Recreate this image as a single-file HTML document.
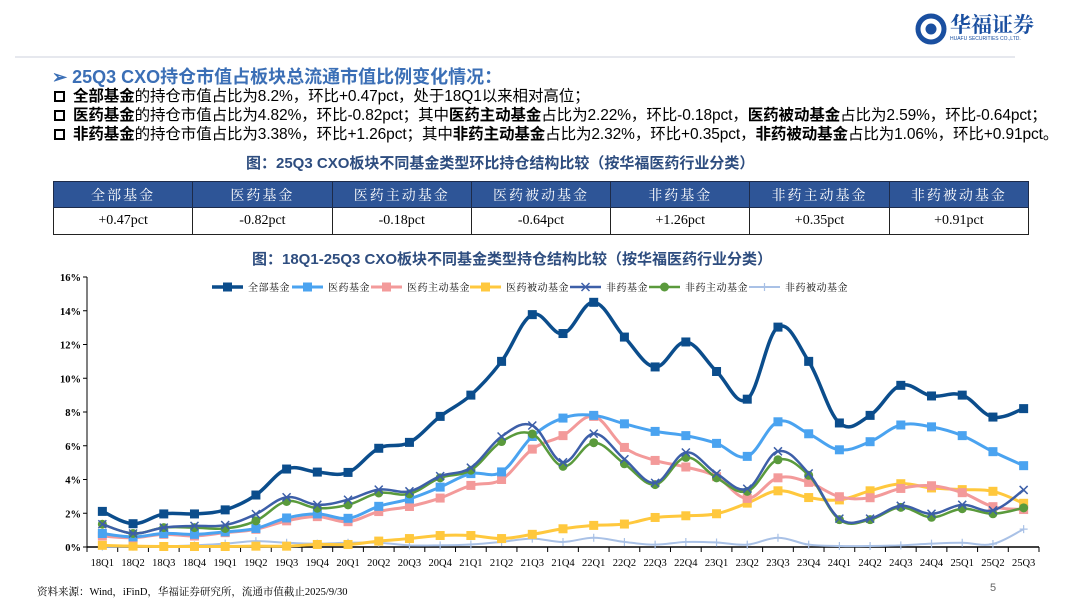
<!DOCTYPE html>
<html><head><meta charset="utf-8">
<style>
*{margin:0;padding:0;box-sizing:border-box}
body{width:1080px;height:608px;background:#fff;position:relative;overflow:hidden;font-family:"Liberation Sans","Noto Sans CJK SC",sans-serif;color:#000}
.abs{position:absolute;white-space:nowrap}
.t1{left:52px;top:63px;font-size:18px;font-weight:bold;color:#3b6fb6}
.b{left:54px;font-size:15.5px;letter-spacing:-0.1px}
.b i{font-style:normal;display:inline-block;width:11px;height:11px;border:2px solid #000;margin-right:8px;vertical-align:-1px}
.cap{font-size:15px;font-weight:bold;color:#2e4d7f}
table{position:absolute;left:53px;top:181px;width:976px;border-collapse:collapse;font-family:"Liberation Serif","Noto Serif CJK SC",serif;font-size:14px;table-layout:fixed}
th{background:#2e5597;color:#fff;height:26px;font-weight:normal;border:1px solid #1d2b4a;letter-spacing:2px}
td{height:27px;text-align:center;border:1px solid #222}
</style></head><body>
<div class="abs" style="left:15px;top:56px;width:1000px;height:2px;background:#e6e8ee"></div>
<div class="abs" style="left:914px;top:12px;width:130px;height:34px">
<svg width="36" height="34" viewBox="0 0 36 34"><circle cx="17" cy="17" r="13" fill="none" stroke="#1a4fa0" stroke-width="5"/><circle cx="17" cy="17" r="5.5" fill="#1a4fa0"/></svg>
<span style="position:absolute;left:36px;top:-3px;font-size:21px;font-weight:bold;color:#1a4fa0;font-family:'Noto Serif CJK SC',serif">华福证券</span>
<span style="position:absolute;left:36px;top:24px;font-size:5px;color:#1a4fa0">HUAFU SECURITIES CO.,LTD.</span>
</div>
<div class="abs t1">➢ 25Q3 CXO持仓市值占板块总流通市值比例变化情况：</div>
<div class="abs b" style="top:84px"><i></i><b>全部基金</b>的持仓市值占比为8.2%，环比+0.47pct，处于18Q1以来相对高位；</div>
<div class="abs b" style="top:103px"><i></i><b>医药基金</b>的持仓市值占比为4.82%，环比-0.82pct；其中<b>医药主动基金</b>占比为2.22%，环比-0.18pct，<b>医药被动基金</b>占比为2.59%，环比-0.64pct；</div>
<div class="abs b" style="top:122px"><i></i><b>非药基金</b>的持仓市值占比为3.38%，环比+1.26pct；其中<b>非药主动基金</b>占比为2.32%，环比+0.35pct，<b>非药被动基金</b>占比为1.06%，环比+0.91pct。</div>
<div class="abs cap" style="left:246px;top:152px">图：25Q3 CXO板块不同基金类型环比持仓结构比较（按华福医药行业分类）</div>
<table>
<tr><th>全部基金</th><th>医药基金</th><th>医药主动基金</th><th>医药被动基金</th><th>非药基金</th><th>非药主动基金</th><th>非药被动基金</th></tr>
<tr><td>+0.47pct</td><td>-0.82pct</td><td>-0.18pct</td><td>-0.64pct</td><td>+1.26pct</td><td>+0.35pct</td><td>+0.91pct</td></tr>
</table>
<div class="abs cap" style="left:252px;top:248px">图：18Q1-25Q3 CXO板块不同基金类型持仓结构比较（按华福医药行业分类）</div>
<svg id="chart" class="abs" style="left:0;top:0" width="1080" height="608"></svg>
<div class="abs" style="left:37px;top:584px;font-size:10.5px;font-family:'Liberation Serif','Noto Serif CJK SC',serif">资料来源：Wind，iFinD，华福证券研究所，流通市值截止2025/9/30</div>
<div class="abs" style="left:990px;top:582px;font-size:11px;color:#666">5</div>
<script>
const categories=["18Q1","18Q2","18Q3","18Q4","19Q1","19Q2","19Q3","19Q4","20Q1","20Q2","20Q3","20Q4","21Q1","21Q2","21Q3","21Q4","22Q1","22Q2","22Q3","22Q4","23Q1","23Q2","23Q3","23Q4","24Q1","24Q2","24Q3","24Q4","25Q1","25Q2","25Q3"];
const yTicks=[0,2,4,6,8,10,12,14,16];
const seriesNames=["全部基金","医药基金","医药主动基金","医药被动基金","非药基金","非药主动基金","非药被动基金"];
const allFunds=[2.11,1.38,1.96,1.96,2.2,3.08,4.62,4.44,4.42,5.85,6.2,7.74,9.0,11.0,13.77,12.65,14.5,12.44,10.67,12.15,10.4,8.76,13.03,11.0,7.35,7.8,9.58,8.95,9.0,7.7,8.2];
const pharmaFunds=[0.8,0.6,0.8,0.75,0.9,1.1,1.72,1.96,1.7,2.41,2.85,3.55,4.35,4.45,6.55,7.64,7.8,7.3,6.85,6.6,6.14,5.37,7.42,6.71,5.76,6.24,7.23,7.12,6.6,5.65,4.82];
const pharmaActive=[0.65,0.55,0.75,0.65,0.85,1.05,1.55,1.8,1.5,2.1,2.4,2.9,3.65,4.0,5.8,6.6,7.74,5.9,5.13,4.74,4.17,2.88,4.1,3.83,2.98,2.92,3.47,3.63,3.22,2.39,2.22];
const pharmaPassive=[0.1,0.05,0.03,0.03,0.03,0.05,0.05,0.15,0.15,0.35,0.5,0.68,0.68,0.5,0.75,1.08,1.28,1.36,1.75,1.85,1.97,2.6,3.33,2.93,2.79,3.33,3.75,3.5,3.4,3.3,2.59];
const nonPharma=[1.35,0.8,1.15,1.25,1.3,1.95,2.95,2.5,2.8,3.4,3.3,4.2,4.7,6.55,7.2,5.02,6.72,5.2,3.8,5.6,4.35,3.45,5.67,4.36,1.68,1.68,2.44,1.97,2.5,2.17,3.38];
const nonPharmaActive=[1.35,0.8,1.15,1.15,1.1,1.55,2.7,2.3,2.5,3.2,3.15,4.1,4.55,6.25,6.7,4.78,6.18,4.93,3.7,5.31,4.1,3.3,5.17,4.25,1.62,1.62,2.35,1.76,2.27,1.97,2.32];
const nonPharmaPassive=[0.02,0.02,0.03,0.1,0.2,0.35,0.25,0.2,0.25,0.25,0.1,0.1,0.15,0.3,0.5,0.3,0.55,0.3,0.14,0.3,0.27,0.14,0.55,0.14,0.06,0.06,0.1,0.2,0.25,0.18,1.06];

const svg=document.getElementById('chart');
const NS='http://www.w3.org/2000/svg';
const X0=87,X1=1039,Y0=547,Y1=277;
const step=(X1-X0)/categories.length;
const xs=i=>X0+step*(i+0.5);
const ys=v=>Y0-(v/16)*(Y0-Y1);
function mk(tag,attrs,parent){const e=document.createElementNS(NS,tag);for(const k in attrs)e.setAttribute(k,attrs[k]);(parent||svg).appendChild(e);return e;}
const serif="'Liberation Serif','Noto Serif CJK SC',serif";
let ax=mk('line',{x1:X0,y1:Y1,x2:X0,y2:Y0,stroke:'#000','stroke-width':1});


let bx=mk('line',{x1:X0,y1:Y0,x2:X1,y2:Y0,stroke:'#000','stroke-width':1.5});


yTicks.forEach(t=>{
  mk('line',{x1:X0-4,x2:X0,y1:ys(t),y2:ys(t),stroke:'#000'});
  const tx=mk('text',{x:X0-6,y:ys(t)+4,'text-anchor':'end','font-size':10.5,'font-weight':'bold','font-family':serif});
  tx.textContent=t+'%';
  
  
});
categories.forEach((c,i)=>{
  const xx=X0+step*i;
  mk('line',{x1:xx,x2:xx,y1:Y0,y2:Y0+5,stroke:'#000'});
  const tx=mk('text',{x:xs(i),y:Y0+19,'text-anchor':'middle','font-size':10.5,'font-family':serif});
  tx.textContent=c;
  
  
});
mk('line',{x1:X1,x2:X1,y1:Y0,y2:Y0+5,stroke:'#000'});
function smooth(pts){
  let d='M'+pts[0][0]+','+pts[0][1];
  for(let i=0;i<pts.length-1;i++){
    const p0=pts[i-1]||pts[i],p1=pts[i],p2=pts[i+1],p3=pts[i+2]||p2,t=0.18;
    d+=' C'+(p1[0]+(p2[0]-p0[0])*t)+','+(p1[1]+(p2[1]-p0[1])*t)+' '+(p2[0]-(p3[0]-p1[0])*t)+','+(p2[1]-(p3[1]-p1[1])*t)+' '+p2[0]+','+p2[1];
  }
  return d;
}
const seriesData=[allFunds,pharmaFunds,pharmaActive,pharmaPassive,nonPharma,nonPharmaActive,nonPharmaPassive];
const colors=['#0b4d8c','#4aa3f0','#f39a9a','#ffc83d','#3d5fa8','#5a9a3c','#a9c1e6'];
const widths=[3.5,3,3,3,2.5,2.5,2];
const markers=['sq','sq','sq','sq','x','dot','plus'];
const seriesIds=['all-funds','pharma-funds','pharma-active','pharma-passive','non-pharma','non-pharma-active','non-pharma-passive'];
function marker(type,x,y,c,g){
  if(type==='sq')return mk('rect',{x:x-4.5,y:y-4.5,width:9,height:9,fill:c},g);
  if(type==='dot')return mk('circle',{cx:x,cy:y,r:4.5,fill:c},g);
  if(type==='x')return mk('path',{d:`M${x-4},${y-4}L${x+4},${y+4}M${x-4},${y+4}L${x+4},${y-4}`,stroke:c,'stroke-width':1.5},g);
  return mk('path',{d:`M${x-4},${y}L${x+4},${y}M${x},${y-4}L${x},${y+4}`,stroke:c,'stroke-width':1.2},g);
}
const order=[6,3,2,1,5,4,0];
order.forEach(s=>{
  const g=mk('g',{});
  
  
  const pts=seriesData[s].map((v,i)=>[xs(i),ys(v)]);
  mk('path',{d:smooth(pts),fill:'none',stroke:colors[s],'stroke-width':widths[s],'stroke-linejoin':'round'},g);
  pts.forEach(p=>{const m=marker(markers[s],p[0],p[1],colors[s],g);
    
    });
});
const legX=[212,292,371,470,570,649,749];
seriesNames.forEach((n,s)=>{
  const g=mk('g',{});
  
  
  const y=287;
  mk('line',{x1:legX[s],x2:legX[s]+31,y1:y,y2:y,stroke:colors[s],'stroke-width':widths[s]},g);
  marker(markers[s],legX[s]+15.5,y,colors[s],g);
  const t=mk('text',{x:legX[s]+36,y:y+4,'font-size':10,'font-family':serif,'letter-spacing':0.5},g);
  t.textContent=n;
});
</script>
</body></html>
